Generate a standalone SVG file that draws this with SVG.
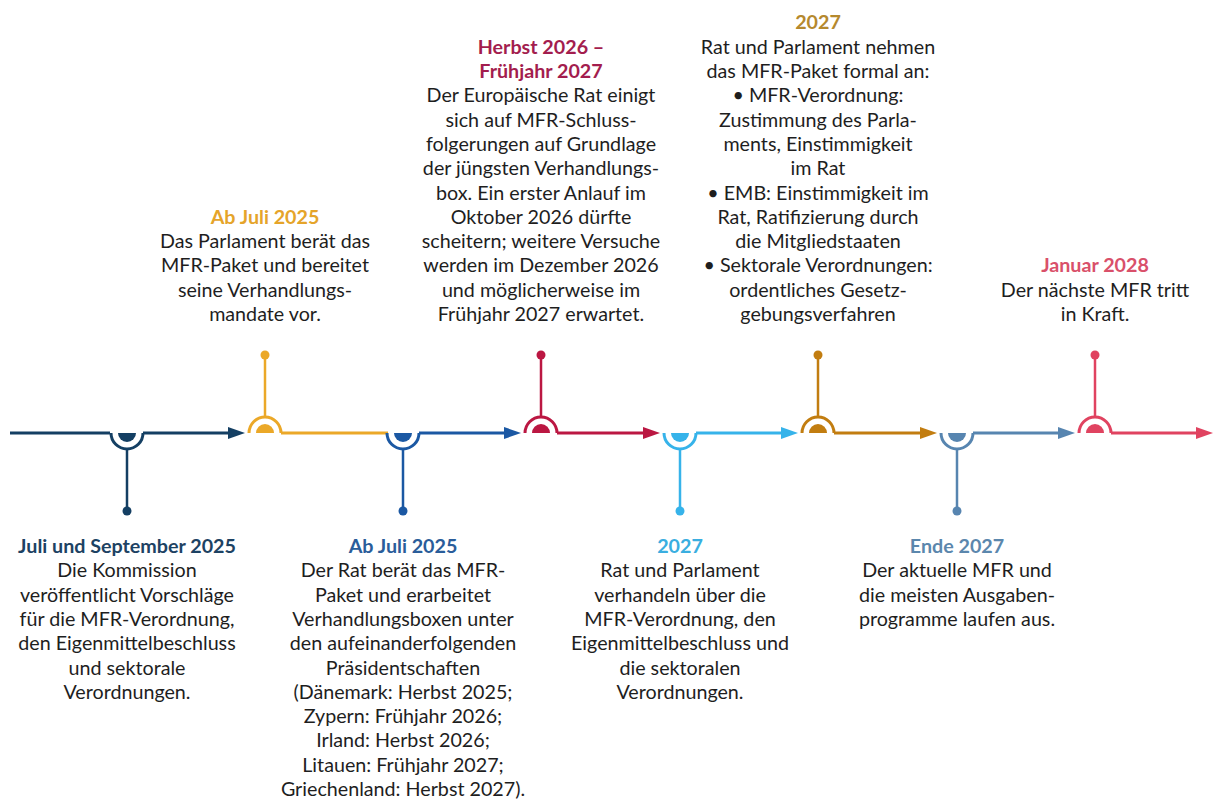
<svg xmlns="http://www.w3.org/2000/svg" width="1214" height="800" viewBox="0 0 1214 800">
<style>
text{font-family:Lato,"Noto Sans",sans-serif;font-size:19.7px;text-anchor:middle;fill:#1e1e1e}
.t{font-weight:700}
.ln{fill:none;stroke-width:3}
.st{fill:none;stroke-width:2.5}
</style>
<rect width="1214" height="800" fill="#fff"/>
<g id="connectors">
<path class="ln" stroke="#143f63" d="M10,433H110M143,433H230"/>
<polygon fill="#143f63" points="245,433 228,427 228,439"/>
<path class="ln" stroke="#eba828" d="M281,433H388"/>
<path class="ln" stroke="#1b58a3" d="M419,433H506"/>
<polygon fill="#1b58a3" points="521,433 504,427 504,439"/>
<path class="ln" stroke="#bb1742" d="M557,433H645"/>
<polygon fill="#bb1742" points="660,433 643,427 643,439"/>
<path class="ln" stroke="#36b3ea" d="M696,433H783"/>
<polygon fill="#36b3ea" points="798,433 781,427 781,439"/>
<path class="ln" stroke="#c27d10" d="M834,433H922"/>
<polygon fill="#c27d10" points="937,433 920,427 920,439"/>
<path class="ln" stroke="#5785b0" d="M973,433H1060"/>
<polygon fill="#5785b0" points="1075,433 1058,427 1058,439"/>
<path class="ln" stroke="#e04360" d="M1111,433H1198"/>
<polygon fill="#e04360" points="1213,433 1196,427 1196,439"/>
</g>
<g id="node1">
<path class="ln" stroke="#143f63" d="M111,433A16,16 0 0 0 143,433"/>
<path fill="#143f63" d="M118,433A9,9 0 0 0 136,433Z"/>
<path class="st" stroke="#143f63" d="M127,449V511"/>
<circle cx="127" cy="511" r="4.5" fill="#143f63"/>
<text class="t" x="127" y="553" style="fill:#1d4263">Juli und September 2025</text>
<text x="127" y="577.3">Die Kommission</text>
<text x="127" y="601.6">veröffentlicht Vorschläge</text>
<text x="127" y="625.9">für die MFR-Verordnung,</text>
<text x="127" y="650.2">den Eigenmittelbeschluss</text>
<text x="127" y="674.5">und sektorale</text>
<text x="127" y="698.8">Verordnungen.</text>
</g>
<g id="node2">
<path class="ln" stroke="#eba828" d="M249,433A16,16 0 0 1 281,433"/>
<path fill="#eba828" d="M256,433A9,9 0 0 1 274,433Z"/>
<path class="st" stroke="#eba828" d="M265,417V355"/>
<circle cx="265" cy="355" r="4.5" fill="#eba828"/>
<text class="t" x="265" y="223.8" style="fill:#e5a42a">Ab Juli 2025</text>
<text x="265" y="248.1">Das Parlament berät das</text>
<text x="265" y="272.4">MFR-Paket und bereitet</text>
<text x="265" y="296.7">seine Verhandlungs-</text>
<text x="265" y="321">mandate vor.</text>
</g>
<g id="node3">
<path class="ln" stroke="#1b58a3" d="M387,433A16,16 0 0 0 419,433"/>
<path fill="#1b58a3" d="M394,433A9,9 0 0 0 412,433Z"/>
<path class="st" stroke="#1b58a3" d="M403,449V511"/>
<circle cx="403" cy="511" r="4.5" fill="#1b58a3"/>
<text class="t" x="403" y="553" style="fill:#2a5d9a">Ab Juli 2025</text>
<text x="403" y="577.3">Der Rat berät das MFR-</text>
<text x="403" y="601.6">Paket und erarbeitet</text>
<text x="403" y="625.9">Verhandlungsboxen unter</text>
<text x="403" y="650.2">den aufeinanderfolgenden</text>
<text x="403" y="674.5">Präsidentschaften</text>
<text x="403" y="698.8">(Dänemark: Herbst 2025;</text>
<text x="403" y="723.1">Zypern: Frühjahr 2026;</text>
<text x="403" y="747.4">Irland: Herbst 2026;</text>
<text x="403" y="771.7">Litauen: Frühjahr 2027;</text>
<text x="403" y="796">Griechenland: Herbst 2027).</text>
</g>
<g id="node4">
<path class="ln" stroke="#bb1742" d="M525,433A16,16 0 0 1 557,433"/>
<path fill="#bb1742" d="M532,433A9,9 0 0 1 550,433Z"/>
<path class="st" stroke="#bb1742" d="M541,417V355"/>
<circle cx="541" cy="355" r="4.5" fill="#bb1742"/>
<text class="t" x="541" y="53.7" style="fill:#a31d4e">Herbst 2026 –</text>
<text class="t" x="541" y="78" style="fill:#a31d4e">Frühjahr 2027</text>
<text x="541" y="102.3">Der Europäische Rat einigt</text>
<text x="541" y="126.6">sich auf MFR-Schluss-</text>
<text x="541" y="150.9">folgerungen auf Grundlage</text>
<text x="541" y="175.2">der jüngsten Verhandlungs-</text>
<text x="541" y="199.5">box. Ein erster Anlauf im</text>
<text x="541" y="223.8">Oktober 2026 dürfte</text>
<text x="541" y="248.1">scheitern; weitere Versuche</text>
<text x="541" y="272.4">werden im Dezember 2026</text>
<text x="541" y="296.7">und möglicherweise im</text>
<text x="541" y="321">Frühjahr 2027 erwartet.</text>
</g>
<g id="node5">
<path class="ln" stroke="#36b3ea" d="M664,433A16,16 0 0 0 696,433"/>
<path fill="#36b3ea" d="M671,433A9,9 0 0 0 689,433Z"/>
<path class="st" stroke="#36b3ea" d="M680,449V511"/>
<circle cx="680" cy="511" r="4.5" fill="#36b3ea"/>
<text class="t" x="680" y="553" style="fill:#3aaee0">2027</text>
<text x="680" y="577.3">Rat und Parlament</text>
<text x="680" y="601.6">verhandeln über die</text>
<text x="680" y="625.9">MFR-Verordnung, den</text>
<text x="680" y="650.2">Eigenmittelbeschluss und</text>
<text x="680" y="674.5">die sektoralen</text>
<text x="680" y="698.8">Verordnungen.</text>
</g>
<g id="node6">
<path class="ln" stroke="#c27d10" d="M802,433A16,16 0 0 1 834,433"/>
<path fill="#c27d10" d="M809,433A9,9 0 0 1 827,433Z"/>
<path class="st" stroke="#c27d10" d="M818,417V355"/>
<circle cx="818" cy="355" r="4.5" fill="#c27d10"/>
<text class="t" x="818" y="29.4" style="fill:#b5892e">2027</text>
<text x="818" y="53.7">Rat und Parlament nehmen</text>
<text x="818" y="78">das MFR-Paket formal an:</text>
<text x="818" y="102.3">• MFR-Verordnung:</text>
<text x="818" y="126.6">Zustimmung des Parla-</text>
<text x="818" y="150.9">ments, Einstimmigkeit</text>
<text x="818" y="175.2">im Rat</text>
<text x="818" y="199.5">• EMB: Einstimmigkeit im</text>
<text x="818" y="223.8">Rat, Ratifizierung durch</text>
<text x="818" y="248.1">die Mitgliedstaaten</text>
<text x="818" y="272.4">• Sektorale Verordnungen:</text>
<text x="818" y="296.7">ordentliches Gesetz-</text>
<text x="818" y="321">gebungsverfahren</text>
</g>
<g id="node7">
<path class="ln" stroke="#5785b0" d="M941,433A16,16 0 0 0 973,433"/>
<path fill="#5785b0" d="M948,433A9,9 0 0 0 966,433Z"/>
<path class="st" stroke="#5785b0" d="M957,449V511"/>
<circle cx="957" cy="511" r="4.5" fill="#5785b0"/>
<text class="t" x="957" y="553" style="fill:#5b87ad">Ende 2027</text>
<text x="957" y="577.3">Der aktuelle MFR und</text>
<text x="957" y="601.6">die meisten Ausgaben-</text>
<text x="957" y="625.9">programme laufen aus.</text>
</g>
<g id="node8">
<path class="ln" stroke="#e04360" d="M1079,433A16,16 0 0 1 1111,433"/>
<path fill="#e04360" d="M1086,433A9,9 0 0 1 1104,433Z"/>
<path class="st" stroke="#e04360" d="M1095,417V355"/>
<circle cx="1095" cy="355" r="4.5" fill="#e04360"/>
<text class="t" x="1095" y="272.4" style="fill:#d9506a">Januar 2028</text>
<text x="1095" y="296.7">Der nächste MFR tritt</text>
<text x="1095" y="321">in Kraft.</text>
</g>
</svg>
